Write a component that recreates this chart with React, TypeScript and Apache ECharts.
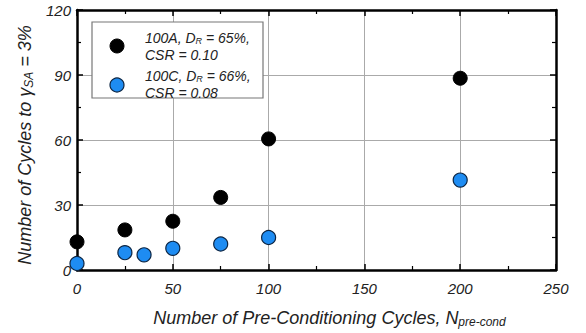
import React, { useEffect, useRef } from "react";
import * as echarts from "echarts";

const seriesAName = "100A, D_R = 65%, CSR = 0.10";
const seriesAX = [0, 25, 50, 75, 100, 200];
const seriesAY = [13, 18.5, 22.5, 33.5, 60.5, 88.5];

const seriesCName = "100C, D_R = 66%, CSR = 0.08";
const seriesCX = [0, 25, 35, 50, 75, 100, 200];
const seriesCY = [3, 8, 7, 10, 12, 15, 41.5];

const xTicks = [0, 50, 100, 150, 200, 250];
const yTicks = [0, 30, 60, 90, 120];

const FONT = "'Liberation Sans', Arial, sans-serif";

export default function App() {
  const ref = useRef<HTMLDivElement>(null);
  useEffect(() => {
    if (!ref.current) return;
    const chart = echarts.init(ref.current, undefined, { renderer: "svg" });
    const axisCommon = {
      type: "value" as const,
      axisLine: { show: true, onZero: false, lineStyle: { color: "#000", width: 2.5 } },
      axisTick: { show: true, inside: true, length: 6, lineStyle: { color: "#000", width: 1.5 } },
      minorTick: { show: true, splitNumber: 2, length: 4, lineStyle: { color: "#000", width: 1.2 } },
    };
    chart.setOption({
      animation: false,
      grid: { left: 77, top: 10, right: 30, bottom: 59 },
      xAxis: [
        {
          ...axisCommon,
          min: xTicks[0],
          max: xTicks[xTicks.length - 1],
          interval: 50,
          position: "bottom",
          axisLabel: { color: "#222", fontSize: 15, fontStyle: "italic", fontFamily: FONT, margin: 11 },
          splitLine: { show: true, lineStyle: { color: "#aaa", width: 1 } },
          name: "Number of Pre-Conditioning Cycles, N{sub|pre-cond}",
          nameLocation: "middle",
          nameGap: 37,
          nameTextStyle: {
            color: "#222",
            fontSize: 18,
            fontStyle: "italic",
            fontFamily: FONT,
            padding: [0, 0, 0, 26],
            rich: { sub: { fontSize: 12, fontStyle: "italic", fontFamily: FONT, padding: [9, 0, 0, 0] } },
          },
        },
        {
          ...axisCommon,
          min: xTicks[0],
          max: xTicks[xTicks.length - 1],
          interval: 50,
          position: "top",
          axisLabel: { show: false },
          splitLine: { show: false },
        },
      ],
      yAxis: [
        {
          ...axisCommon,
          min: yTicks[0],
          max: yTicks[yTicks.length - 1],
          interval: 30,
          position: "left",
          axisLabel: { color: "#222", fontSize: 15, fontStyle: "italic", fontFamily: FONT, margin: 6 },
          splitLine: { show: true, lineStyle: { color: "#aaa", width: 1 } },
          name: "Number of Cycles to γ{sub|SA} = 3%",
          nameLocation: "middle",
          nameGap: 40,
          nameRotate: 90,
          nameTextStyle: {
            color: "#222",
            fontSize: 18,
            fontStyle: "italic",
            fontFamily: FONT,
            padding: [0, 10, 0, 0],
            rich: { sub: { fontSize: 12, fontStyle: "italic", fontFamily: FONT, padding: [9, 0, 0, 0] } },
          },
        },
        {
          ...axisCommon,
          min: yTicks[0],
          max: yTicks[yTicks.length - 1],
          interval: 30,
          position: "right",
          axisLabel: { show: false },
          splitLine: { show: false },
        },
      ],
      series: [
        {
          name: seriesAName,
          type: "scatter",
          symbol: "circle",
          symbolSize: 14,
          itemStyle: { color: "#000", borderColor: "#000", borderWidth: 1, opacity: 1 },
          data: seriesAX.map((x, i) => [x, seriesAY[i]]),
          z: 5,
        },
        {
          name: seriesCName,
          type: "scatter",
          symbol: "circle",
          symbolSize: 14,
          itemStyle: { color: "#1E8CF2", borderColor: "#0b2442", borderWidth: 1.2, opacity: 1 },
          data: seriesCX.map((x, i) => [x, seriesCY[i]]),
          z: 5,
        },
      ],
      graphic: [
        {
          type: "rect",
          shape: { x: 92, y: 22, width: 171, height: 76 },
          style: { fill: "#fff", stroke: "#777", lineWidth: 1.2 },
          z: 10,
        },
        { type: "circle", shape: { cx: 117, cy: 46, r: 7 }, style: { fill: "#000", stroke: "#000" }, z: 11 },
        { type: "circle", shape: { cx: 117, cy: 85, r: 7 }, style: { fill: "#1E8CF2", stroke: "#0b2442", lineWidth: 1.2 }, z: 11 },
        {
          type: "text",
          x: 145,
          y: 29,
          z: 11,
          style: {
            text: "100A, D{sub|R} = 65%,\nCSR = 0.10",
            fill: "#222",
            fontSize: 14,
            fontStyle: "italic",
            fontFamily: FONT,
            lineHeight: 17,
            rich: { sub: { fontSize: 9, fontStyle: "italic", fontFamily: FONT, padding: [7, 0, 0, 0], fill: "#222" } },
          },
        },
        {
          type: "text",
          x: 145,
          y: 67,
          z: 11,
          style: {
            text: "100C, D{sub|R} = 66%,\nCSR = 0.08",
            fill: "#222",
            fontSize: 14,
            fontStyle: "italic",
            fontFamily: FONT,
            lineHeight: 17,
            rich: { sub: { fontSize: 9, fontStyle: "italic", fontFamily: FONT, padding: [7, 0, 0, 0], fill: "#222" } },
          },
        },
      ],
    });
    return () => chart.dispose();
  }, []);
  return <div ref={ref} style={{ position: "fixed", left: 0, top: 0, width: 586, height: 333, background: "#fff" }} />;
}
